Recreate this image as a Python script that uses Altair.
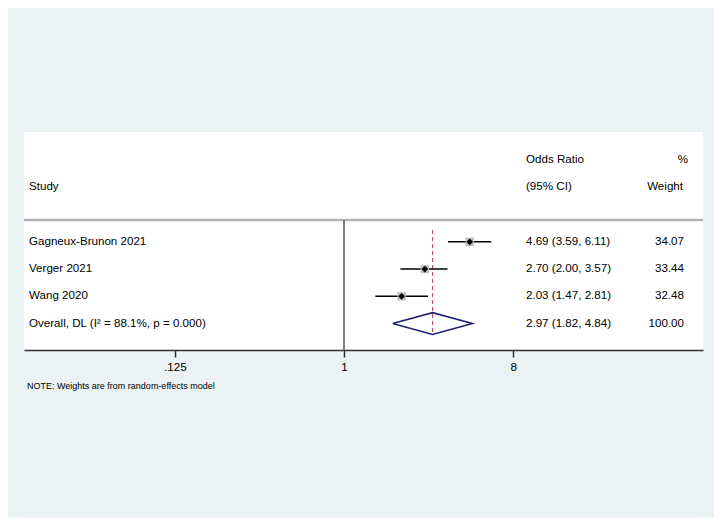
import altair as alt
import pandas as pd
import numpy as np

# ---- data ----
studies = ["Gagneux-Brunon 2021", "Verger 2021", "Wang 2020"]
odds = [4.69, 2.70, 2.03]
ci_lo = [3.59, 2.00, 1.47]
ci_hi = [6.11, 3.57, 2.81]
weights = [34.07, 33.44, 32.48]

overall_label = "Overall, DL (I² = 88.1%, p = 0.000)"
overall_or = 2.97
overall_lo = 1.82
overall_hi = 4.84
overall_w = 100.00

tick_values = [0.125, 1, 8]
tick_labels = [".125", "1", "8"]
null_value = 1
note = "NOTE: Weights are from random-effects model"

# ---- layout ----
W, H = 679, 218
FONT = "Liberation Sans"
FS = 11.6
x1_px = 320.0       # pixel of OR = 1 in plot area
per_doubling = 56.4
x_domain = [2 ** (-x1_px / per_doubling), 2 ** ((W - x1_px) / per_doubling)]
y_domain = [-0.03, 7.97]

study_rows = [4, 5, 6]
overall_row = 7
sep_row = 3.2

df = pd.DataFrame({
    "study": studies, "OR": odds, "lo": ci_lo, "hi": ci_hi,
    "w": weights, "row": study_rows,
})
df["ci_text"] = [f"{o:.2f} ({l:.2f}, {h:.2f})" for o, l, h in zip(odds, ci_lo, ci_hi)]
df["w_text"] = [f"{w:.2f}" for w in weights]

text_df = pd.DataFrame({
    "label": studies + [overall_label],
    "ci_text": list(df["ci_text"]) + [f"{overall_or:.2f} ({overall_lo:.2f}, {overall_hi:.2f})"],
    "w_text": list(df["w_text"]) + [f"{overall_w:.2f}"],
    "row": study_rows + [overall_row],
})

xs = alt.Scale(type="log", base=2, domain=x_domain, nice=False, zero=False)
ys = alt.Scale(domain=y_domain, reverse=True, nice=False, zero=False)

label_expr = " ".join(f"datum.value == {v} ? '{l}' :" for v, l in zip(tick_values, tick_labels)) + " ''"

x_axis = alt.Axis(values=tick_values, labelExpr=label_expr, title=None, grid=False,
                  domainColor="#333333", domainWidth=1.5, tickColor="#333333",
                  tickWidth=1.5, tickSize=7, labelFont=FONT, labelFontSize=FS,
                  labelColor="black", labelPadding=4)

base = alt.Chart(df)

# header separator across the full plot width
sep = alt.Chart(pd.DataFrame({"x1": [x_domain[0]], "x2": [x_domain[1]], "row": [sep_row]})).mark_rule(
    color="#b4b4b4", strokeWidth=2.5, opacity=1).encode(
    x=alt.X("x1:Q", scale=xs), x2="x2:Q", y=alt.Y("row:Q", scale=ys, axis=None))

# null line at OR = 1
null_line = alt.Chart(pd.DataFrame({"x": [null_value], "y1": [sep_row], "y2": [y_domain[1]]})).mark_rule(
    color="#555555", strokeWidth=1.5).encode(
    x=alt.X("x:Q", scale=xs, axis=x_axis),
    y=alt.Y("y1:Q", scale=ys, axis=None), y2="y2:Q")

# overall dashed line
dash = alt.Chart(pd.DataFrame({"x": [overall_or], "y1": [3.57], "y2": [7.38]})).mark_rule(
    color="#bf5560", strokeWidth=1.2, strokeDash=[4, 3]).encode(
    x=alt.X("x:Q", scale=xs), y=alt.Y("y1:Q", scale=ys, axis=None), y2="y2:Q")

ci = base.mark_rule(color="black", strokeWidth=1.6).encode(
    x=alt.X("lo:Q", scale=xs), x2="hi:Q", y=alt.Y("row:Q", scale=ys, axis=None))

boxes = base.mark_square(color="#bfbfbf", opacity=1, size=70).encode(
    x=alt.X("OR:Q", scale=xs), y=alt.Y("row:Q", scale=ys, axis=None))

pts = base.mark_point(shape="diamond", filled=True, color="black", opacity=1, size=45).encode(
    x=alt.X("OR:Q", scale=xs), y=alt.Y("row:Q", scale=ys, axis=None))

half = 0.4
dia_df = pd.DataFrame({
    "x": [overall_lo, overall_or, overall_hi, overall_or, overall_lo],
    "y": [overall_row, overall_row - half, overall_row, overall_row + half, overall_row],
    "k": [0, 1, 2, 3, 4],
})
diamond = alt.Chart(dia_df).mark_line(color="#1f1f75", strokeWidth=1.6).encode(
    x=alt.X("x:Q", scale=xs), y=alt.Y("y:Q", scale=ys, axis=None), order="k:Q")

tbase = alt.Chart(text_df)
txt_kw = dict(font=FONT, fontSize=FS, color="black", baseline="middle")
t_study = tbase.mark_text(align="left", **txt_kw).encode(
    x=alt.value(5), y=alt.Y("row:Q", scale=ys, axis=None), text="label:N")
t_ci = tbase.mark_text(align="left", **txt_kw).encode(
    x=alt.value(502), y=alt.Y("row:Q", scale=ys, axis=None), text="ci_text:N")
t_w = tbase.mark_text(align="right", **txt_kw).encode(
    x=alt.value(660), y=alt.Y("row:Q", scale=ys, axis=None), text="w_text:N")

head_df = pd.DataFrame({
    "label": ["Study", "Odds Ratio", "(95% CI)", "%", "Weight"],
    "row": [2, 1, 2, 1, 2],
    "px": [5, 502, 502, 664, 659],
    "al": ["l", "l", "l", "r", "r"],
})
h_left = alt.Chart(head_df[head_df.al == "l"]).mark_text(align="left", **txt_kw).encode(
    x=alt.X("px:Q", scale=None), y=alt.Y("row:Q", scale=ys, axis=None), text="label:N")
h_right = alt.Chart(head_df[head_df.al == "r"]).mark_text(align="right", **txt_kw).encode(
    x=alt.X("px:Q", scale=None), y=alt.Y("row:Q", scale=ys, axis=None), text="label:N")

note_t = alt.Chart(pd.DataFrame({"t": [note]})).mark_text(
    align="left", baseline="middle", font=FONT, fontSize=9, color="black").encode(
    x=alt.value(3), y=alt.value(254), text="t:N")

chart = alt.layer(sep, null_line, dash, ci, boxes, pts, diamond,
                  t_study, t_ci, t_w, h_left, h_right, note_t).properties(
    width=W, height=H,
    autosize=alt.AutoSizeParams(type="none"),
    padding={"left": 16, "top": 124, "right": 11, "bottom": 168},
    background="#eaf2f3",
).configure_view(fill="white", strokeWidth=0)

chart.save("out.html", embed_options={"renderer": "svg", "actions": False})
